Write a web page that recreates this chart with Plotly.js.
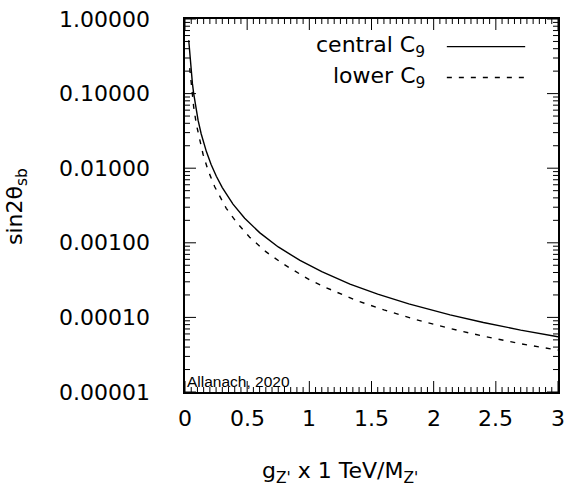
<!DOCTYPE html>
<html><head><meta charset="utf-8">
<script src="https://cdn.plot.ly/plotly-3.0.1.min.js"></script>
<style>html,body{margin:0;padding:0;background:#fff}</style>
</head><body><div id="chart" style="width:571px;height:486px"></div>
<script>
// g_Z' x 1 TeV / M_Z'
const centralG   = [0.030, 0.04, 0.051, 0.06, 0.07, 0.085, 0.105, 0.13, 0.172, 0.21, 0.252, 0.3, 0.386, 0.48, 0.6, 0.75, 0.925, 1.1, 1.327, 1.55, 1.8, 2.132, 2.4, 2.7, 3.0];
const centralSin = [0.52, 0.30, 0.19, 0.135, 0.10, 0.068, 0.044, 0.029, 0.0167, 0.0112, 0.0078, 0.0055, 0.0033, 0.00214, 0.00137, 0.00088, 0.00058, 0.00041, 0.00028, 0.000205, 0.000152, 0.000108, 0.0000855, 0.0000676, 0.000055];
const lowerG     = [0.038, 0.045, 0.055, 0.07, 0.091, 0.115, 0.145, 0.185, 0.24, 0.332, 0.42, 0.52, 0.65, 0.79, 1.0, 1.136, 1.368, 1.6, 1.85, 2.132, 2.4, 2.7, 3.0];
const lowerSin   = [0.22, 0.16, 0.107, 0.066, 0.039, 0.0245, 0.0154, 0.0094, 0.0056, 0.0029, 0.00183, 0.00119, 0.00076, 0.00052, 0.00032, 0.00025, 0.000171, 0.000126, 0.000094, 0.000071, 0.000056, 0.0000443, 0.0000365];
const seriesNames = ["central C<sub>9</sub>", "lower C<sub>9</sub>"];
const xTickVals = [0, 0.5, 1, 1.5, 2, 2.5, 3];
const xTickText = ["0", "0.5", "1", "1.5", "2", "2.5", "3"];
const yTickVals = [1e-5, 1e-4, 1e-3, 1e-2, 1e-1, 1];
const yTickText = ["0.00001", "0.00010", "0.00100", "0.01000", "0.10000", "1.00000"];
const xTitle = "g<sub>Z'</sub> x 1 TeV/M<sub>Z'</sub>";
const yTitle = "sin2θ<sub>sb</sub>";
const credit = "Allanach, 2020";

const PLOT = 373;               // plot area size in px (square)
const MAJ = 11 / PLOT, MIN = 5 / PLOT;
const font = {family: "DejaVu Sans", size: 22, color: "#000"};
const black = "#000";

const traces = [
  {x: centralG, y: centralSin, name: seriesNames[0], mode: "lines", line: {color: black, width: 1.4}},
  {x: lowerG, y: lowerSin, name: seriesNames[1], mode: "lines", line: {color: black, width: 1.4, dash: "5px,7px"}}
];

const shapes = [];
const annotations = [];
function tickLine(axis, v, len) {
  if (axis === "x") {
    shapes.push({type: "line", xref: "x", yref: "paper", x0: v, x1: v, y0: 0, y1: len, line: {color: black, width: 1}});
    shapes.push({type: "line", xref: "x", yref: "paper", x0: v, x1: v, y0: 1 - len, y1: 1, line: {color: black, width: 1}});
  } else {
    shapes.push({type: "line", xref: "paper", yref: "y", x0: 0, x1: len, y0: v, y1: v, line: {color: black, width: 1}});
    shapes.push({type: "line", xref: "paper", yref: "y", x0: 1 - len, x1: 1, y0: v, y1: v, line: {color: black, width: 1}});
  }
}
// major ticks + labels
xTickVals.forEach(function(v, i) {
  tickLine("x", v, MAJ);
  annotations.push({xref: "x", yref: "paper", x: v, y: 0, yshift: -26, xanchor: "center", yanchor: "middle", text: xTickText[i], showarrow: false, font: font});
});
yTickVals.forEach(function(v, i) {
  tickLine("y", v, MAJ);
  annotations.push({xref: "paper", yref: "y", x: 0, y: Math.log10(v), xshift: -33, xanchor: "right", yanchor: "middle", text: yTickText[i], showarrow: false, font: font});
});
// minor ticks
for (let k = 1; k < 60; k++) { if (k % 10 !== 0) tickLine("x", k * 0.05, MIN); }
for (let d = -5; d < 0; d++) { for (let m = 2; m <= 9; m++) tickLine("y", m * Math.pow(10, d), MIN); }
// legend samples
shapes.push({type: "line", xref: "paper", yref: "paper", x0: 0.702, x1: 0.912, y0: 0.926, y1: 0.926, line: {color: black, width: 1.4}});
shapes.push({type: "line", xref: "paper", yref: "paper", x0: 0.702, x1: 0.912, y0: 0.843, y1: 0.843, line: {color: black, width: 1.4, dash: "5px,7px"}});

annotations.push(
  {xref: "paper", yref: "paper", x: 0.649, y: 0.926, xanchor: "right", yanchor: "middle", text: seriesNames[0], showarrow: false, font: font},
  {xref: "paper", yref: "paper", x: 0.649, y: 0.843, xanchor: "right", yanchor: "middle", text: seriesNames[1], showarrow: false, font: font},
  {xref: "paper", yref: "paper", x: 0.0, y: 0.0, xanchor: "left", yanchor: "bottom", text: credit, showarrow: false, font: {family: "Liberation Sans", size: 15.5, color: black}},
  {xref: "paper", yref: "paper", x: 0.4155, y: 0, yshift: -80, xanchor: "center", yanchor: "middle", text: xTitle, showarrow: false, font: font},
  {xref: "paper", yref: "paper", x: 0, y: 0.496, xshift: -168, xanchor: "center", yanchor: "middle", textangle: -90, text: yTitle, showarrow: false, font: font}
);

const layout = {
  width: 571, height: 486,
  margin: {l: 185, r: 13, t: 19, b: 94},
  font: font,
  showlegend: false,
  xaxis: {range: [0, 3], showline: true, linecolor: black, linewidth: 1.5, mirror: true, ticks: "", showticklabels: false, showgrid: false, zeroline: false},
  yaxis: {type: "log", range: [-5, 0], showline: true, linecolor: black, linewidth: 1.5, mirror: true, ticks: "", showticklabels: false, showgrid: false, zeroline: false},
  shapes: shapes,
  annotations: annotations
};

Plotly.newPlot("chart", traces, layout, {displayModeBar: false});
</script>
</body></html>
